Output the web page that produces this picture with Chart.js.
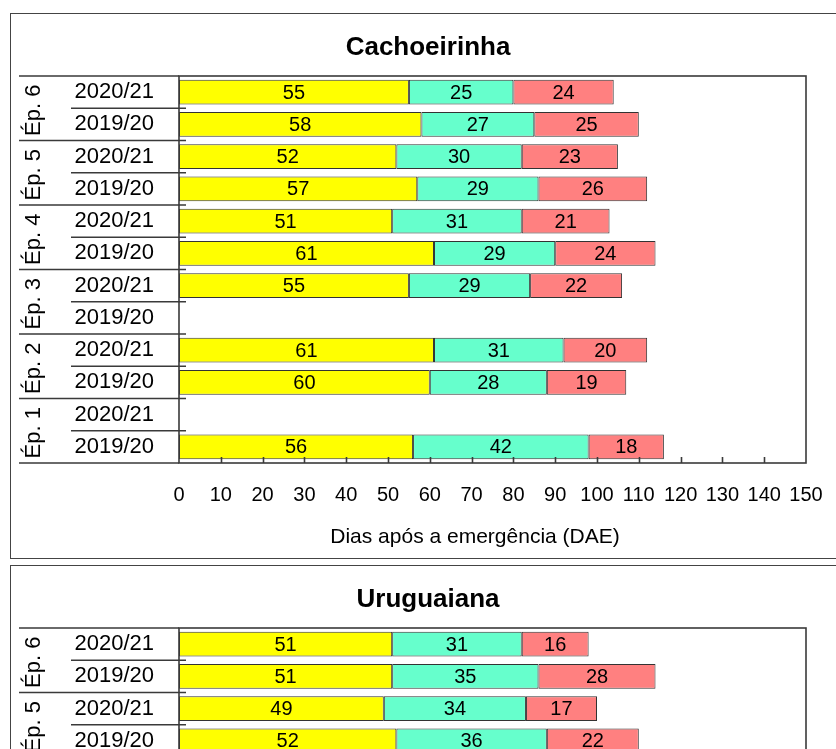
<!DOCTYPE html>
<html>
<head>
<meta charset="utf-8">
<script src="https://cdn.jsdelivr.net/npm/chart.js@4.4.0/dist/chart.umd.min.js"></script>
<style>
  body { margin: 0; background: #fff; overflow: hidden; width: 836px; height: 749px; position: relative; }
  .painel { position: absolute; left: 10px; width: 840px; height: 546px; border: 1px solid #444; box-sizing: border-box; }
  .painel canvas { position: absolute; left: -1px; top: -1px; }
</style>
</head>
<body>
<div class="painel" style="top:13px"><canvas id="grafCachoeirinha" width="826" height="546"></canvas></div>
<div class="painel" style="top:565px"><canvas id="grafUruguaiana" width="826" height="546"></canvas></div>

<script>
// categorias (de cima para baixo)
const anosSafra = ['2020/21', '2019/20', '2020/21', '2019/20', '2020/21', '2019/20',
                   '2020/21', '2019/20', '2020/21', '2019/20', '2020/21', '2019/20'];
const epocas = ['Ép. 6', 'Ép. 5', 'Ép. 4', 'Ép. 3', 'Ép. 2', 'Ép. 1'];
const diasTicks = [0, 10, 20, 30, 40, 50, 60, 70, 80, 90, 100, 110, 120, 130, 140, 150];

// Cachoeirinha - duração de cada fase (dias)
const cachoFase1 = [55, 58, 52, 57, 51, 61, 55, null, 61, 60, null, 56];
const cachoFase2 = [25, 27, 30, 29, 31, 29, 29, null, 31, 28, null, 42];
const cachoFase3 = [24, 25, 23, 26, 21, 24, 22, null, 20, 19, null, 18];

// Uruguaiana - só as linhas visíveis na figura
const urugFase1 = [51, 51, 49, 52, null, null, null, null, null, null, null, null];
const urugFase2 = [31, 35, 34, 36, null, null, null, null, null, null, null, null];
const urugFase3 = [16, 28, 17, 22, null, null, null, null, null, null, null, null];

const cores = ['#ffff00', '#66ffcc', '#ff8080'];
const fonte = "'Liberation Sans', Arial, Helvetica, sans-serif";

Chart.defaults.font.family = fonte;
Chart.defaults.color = '#000';

// numeros dentro das barras
const rotulosBarras = {
    id: 'rotulosBarras',
    afterDatasetsDraw(chart) {
        const ctx = chart.ctx;
        ctx.save();
        ctx.font = '20px ' + fonte;
        ctx.fillStyle = '#000';
        ctx.textAlign = 'center';
        ctx.textBaseline = 'middle';
        chart.data.datasets.forEach((ds, di) => {
            const meta = chart.getDatasetMeta(di);
            meta.data.forEach((barra, i) => {
                const v = ds.data[i];
                if (v === null || v === undefined) return;
                ctx.fillText(v, (barra.x + barra.base) / 2, barra.y + 1);
            });
        });
        ctx.restore();
    }
};

// moldura, separadores da tabela, épocas e títulos
const tabelaLateral = {
    id: 'tabelaLateral',
    afterDraw(chart, args, opts) {
        const { ctx, chartArea: a, scales: { x, y } } = chart;
        ctx.save();
        ctx.strokeStyle = '#3a3a3a';
        ctx.lineWidth = 1.6;
        ctx.strokeRect(a.left, a.top, a.right - a.left, a.bottom - a.top);

        // marcas do eixo x (para dentro)
        ctx.beginPath();
        x.ticks.forEach(t => {
            if (t.value <= 0 || t.value >= 150) return;
            const px = Math.round(x.getPixelForValue(t.value)) + 0.5;
            ctx.moveTo(px, a.bottom);
            ctx.lineTo(px, a.bottom - 6);
        });
        ctx.stroke();

        // linhas entre as linhas da tabela
        const n = anosSafra.length;
        ctx.beginPath();
        for (let i = 0; i <= n; i++) {
            let py;
            if (i === 0) py = a.top;
            else if (i === n) py = a.bottom;
            else py = (y.getPixelForValue(i - 1) + y.getPixelForValue(i)) / 2;
            const x0 = i % 2 === 0 ? 9 : 61;
            const x1 = (i === 0 || i === n) ? a.left : a.left + 7;
            ctx.moveTo(x0, py);
            ctx.lineTo(x1, py);
        }
        ctx.stroke();

        // rótulos das épocas (girados)
        ctx.fillStyle = '#000';
        ctx.font = '22px ' + fonte;
        ctx.textAlign = 'center';
        ctx.textBaseline = 'middle';
        epocas.forEach((ep, g) => {
            const py = (y.getPixelForValue(2 * g) + y.getPixelForValue(2 * g + 1)) / 2;
            ctx.save();
            ctx.translate(24, py + 2);
            ctx.rotate(-Math.PI / 2);
            ctx.fillText(ep, 0, 0);
            ctx.restore();
        });

        // título do local
        ctx.font = 'bold 26px ' + fonte;
        ctx.fillText(opts.titulo, 418, 35);

        // título do eixo x
        ctx.font = '21px ' + fonte;
        ctx.fillText('Dias após a emergência (DAE)', 465, 524);
        ctx.restore();
    }
};

function criarGrafico(idCanvas, titulo, f1, f2, f3) {
    const ctx = document.getElementById(idCanvas).getContext('2d');
    return new Chart(ctx, {
        type: 'bar',
        data: {
            labels: anosSafra,
            datasets: [
                { label: 'Fase 1', data: f1, backgroundColor: cores[0] },
                { label: 'Fase 2', data: f2, backgroundColor: cores[1] },
                { label: 'Fase 3', data: f3, backgroundColor: cores[2] }
            ]
        },
        options: {
            indexAxis: 'y',
            responsive: false,
            animation: false,
            layout: { padding: { top: 63, right: 30, left: 0, bottom: 0 } },
            datasets: {
                bar: {
                    categoryPercentage: 1,
                    barPercentage: 0.77,
                    borderColor: '#333',
                    borderWidth: 1,
                    borderSkipped: false
                }
            },
            scales: {
                x: {
                    type: 'linear',
                    stacked: true,
                    min: 0,
                    max: 150,
                    afterBuildTicks: scale => { scale.ticks = diasTicks.map(v => ({ value: v })); },
                    afterFit: scale => {
                        scale.height = 96;
                        scale.paddingLeft = 0;
                        scale.paddingRight = 0;
                    },
                    grid: { display: false, drawTicks: false },
                    border: { display: false },
                    ticks: { autoSkip: false, maxRotation: 0, minRotation: 0, padding: 20, font: { size: 20 }, color: '#000' }
                },
                y: {
                    stacked: true,
                    afterFit: scale => { scale.width = 169; },
                    grid: { display: false, drawTicks: false },
                    border: { display: false },
                    ticks: { padding: 25, font: { size: 22 }, color: '#000', autoSkip: false }
                }
            },
            plugins: {
                legend: { display: false },
                tooltip: { enabled: false },
                tabelaLateral: { titulo: titulo }
            }
        },
        plugins: [rotulosBarras, tabelaLateral]
    });
}

criarGrafico('grafCachoeirinha', 'Cachoeirinha', cachoFase1, cachoFase2, cachoFase3);
criarGrafico('grafUruguaiana', 'Uruguaiana', urugFase1, urugFase2, urugFase3);
</script>
</body>
</html>
